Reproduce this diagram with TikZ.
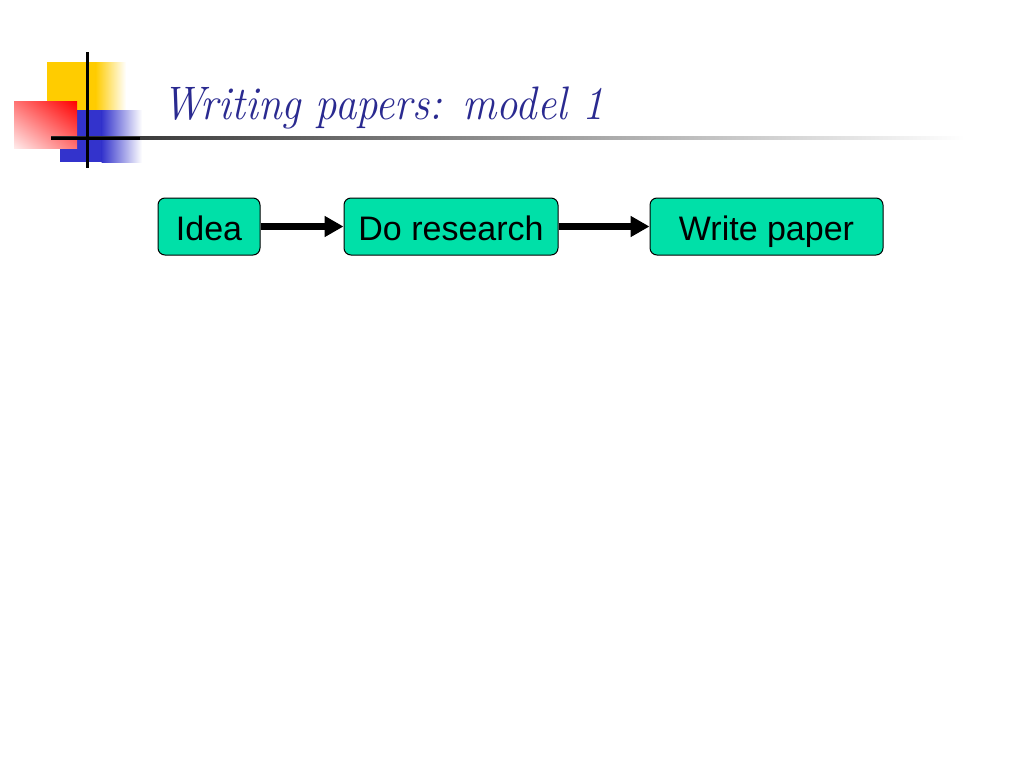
\documentclass[tikz,border=0pt]{standalone}
\usepackage{fontspec}
\newfontfamily\boxfont{Liberation Sans}
\usetikzlibrary{arrows.meta,shadings}
\definecolor{boxfill}{HTML}{00E0A8}
\definecolor{titleblue}{HTML}{2A2A90}
\definecolor{decoyellow}{HTML}{FFCC00}
\definecolor{decoblue}{HTML}{3333CC}
\tikzset{
  stepbox/.style={draw=black, line width=1pt, fill=boxfill, rounded corners=7pt,
    minimum height=57pt, inner sep=0pt, text height=27pt, text depth=0pt,
    font=\boxfont\fontsize{34}{38}\selectfont, text=black},
  flowarrow/.style={line width=6.5pt, -{Triangle[length=19pt,width=20pt]}}
}
\begin{document}
\begin{tikzpicture}[x=1pt,y=-1pt]
\useasboundingbox[fill=white] (0,0) rectangle (1024,768);
% decoration
\fill[decoyellow] (47,62) rectangle (96,110);
\shade[left color=decoyellow, right color=white] (95.5,62) rectangle (126,110);
\fill[decoblue] (60,110) rectangle (102,162);
\shade[left color=decoblue, right color=white] (101.5,110) rectangle (142,162);
\shade[upper left=red!55, upper right=red, lower left=red!8, lower right=red!55] (14,101) rectangle (77,148);
\shade[left color=black!85, right color=white] (51,136.5) rectangle (965,139.5);
\fill[black] (51,136.5) rectangle (140,139.5);
\fill[black] (86,52) rectangle (88.5,168);
% title
\node[anchor=base west, inner sep=0pt, text=titleblue, font=\itshape\fontsize{47}{52}\selectfont] (title) at (162,119) {\scalebox{0.91}[1]{Writing papers: model 1}};
% boxes
\node[stepbox, minimum width=102pt] (idea) at (209,226.5) {Idea};
\node[stepbox, minimum width=214pt] (research) at (451,226.5) {Do research};
\node[stepbox, minimum width=233pt] (write) at (766.5,226.5) {Write paper};
\draw[flowarrow] (idea) -- (research);
\draw[flowarrow] (research) -- (write);
\end{tikzpicture}
\end{document}
